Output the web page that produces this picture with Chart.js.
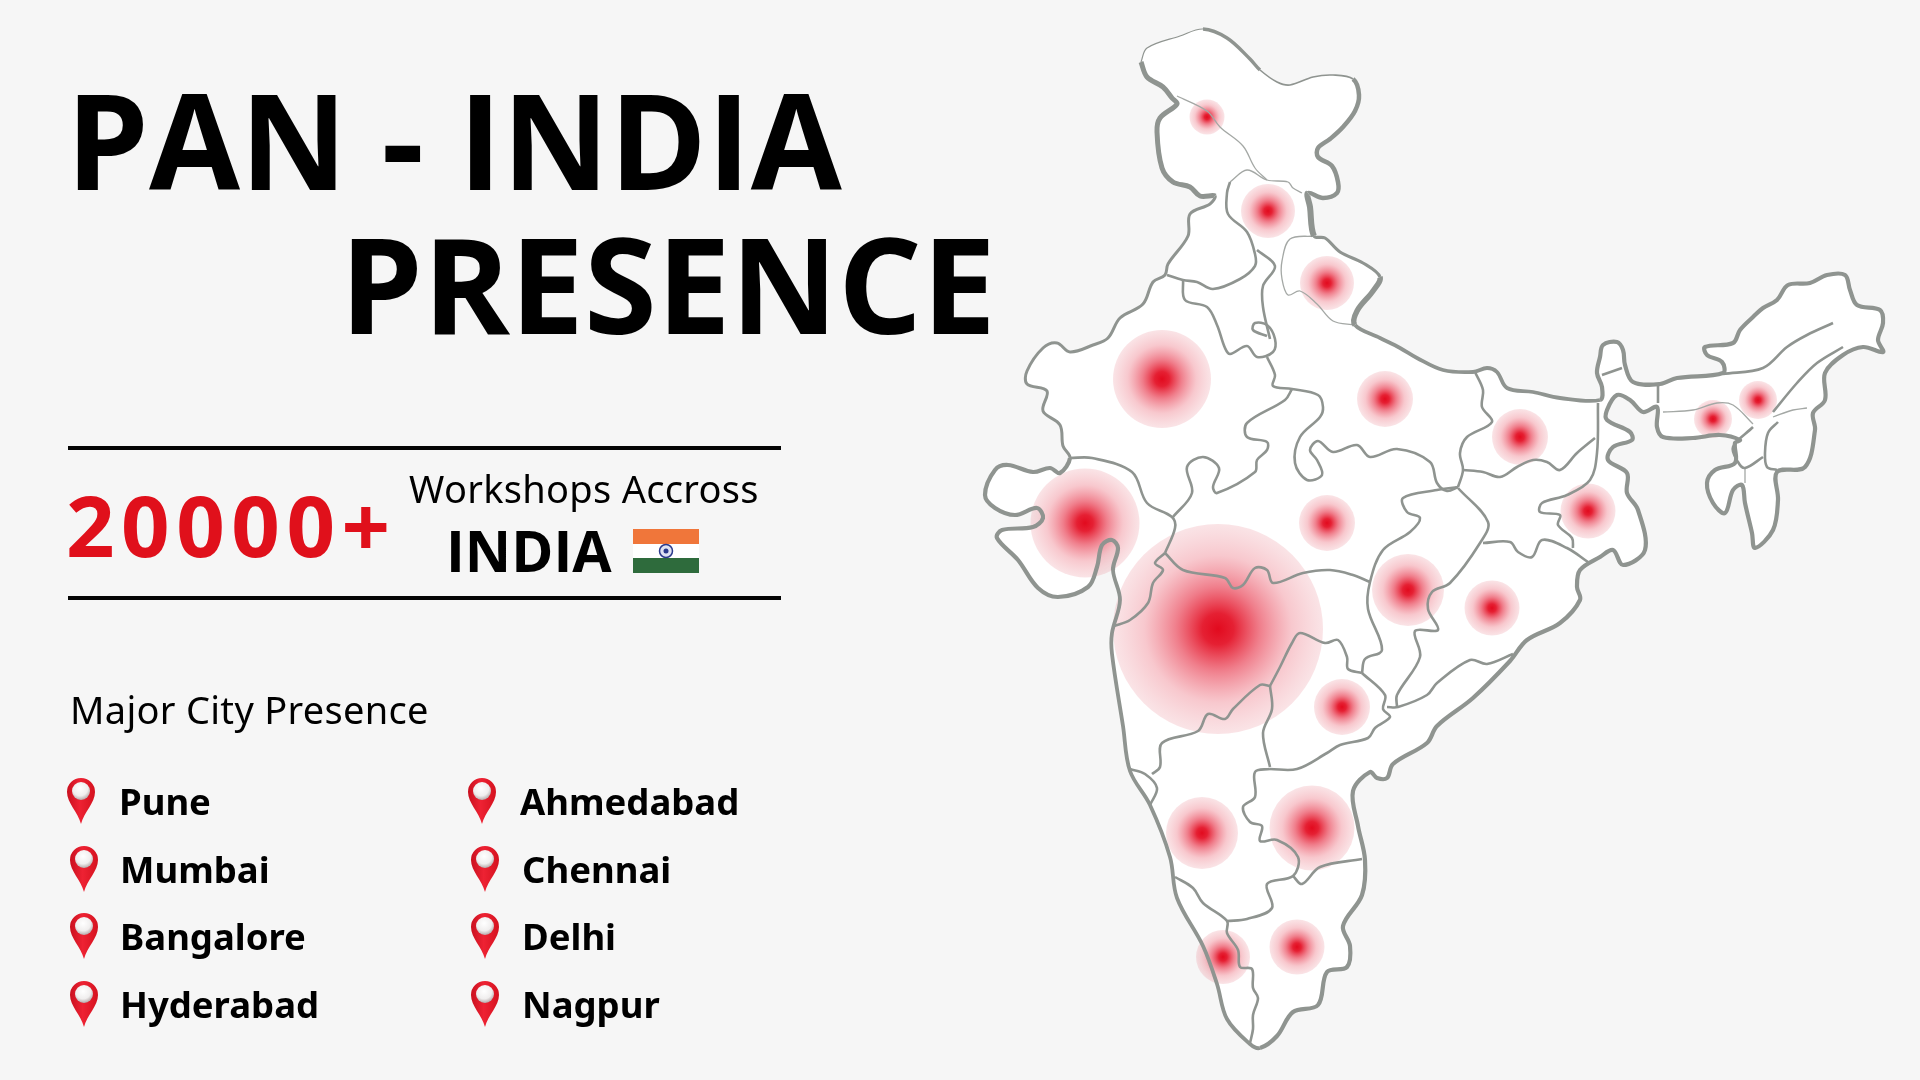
<!DOCTYPE html>
<html>
<head>
<meta charset="utf-8">
<title>PAN - INDIA PRESENCE</title>
<script src="https://cdn.jsdelivr.net/npm/chart.js@4"></script>
<style>
  html, body { margin: 0; padding: 0; background: #f6f6f6; }
  #page { position: relative; width: 1920px; height: 1080px; overflow: hidden; background: #f6f6f6; color: #000; }
  #page canvas { position: absolute; left: 0; top: 0; }
  .txt { position: absolute; white-space: nowrap; line-height: 1; }
  .rule { position: absolute; left: 68px; width: 713px; height: 4px; background: #050505; }
  .pin { position: absolute; width: 30px; height: 46px; }
</style>
</head>
<body>
<div id="page">
  <canvas id="mapChart" width="1920" height="1080"></canvas>
  <div class="txt" id="title1" style="left:66px;top:49px;font:700 132px 'Open Sans'">PAN - INDIA</div>
  <div class="txt" id="title2" style="left:340px;top:193px;font:700 132px 'Open Sans'">PRESENCE</div>
  <div class="rule" style="top:446px"></div>
  <div class="rule" style="top:596px"></div>
  <div class="txt" style="left:66px;top:466px;font:700 85px 'Open Sans';color:#e0101b;letter-spacing:6.5px">20000+</div>
  <div class="txt" style="left:409px;top:462px;font:400 38px 'Noto Sans';letter-spacing:0.3px">Workshops Accross</div>
  <div class="txt" style="left:446px;top:511px;font:700 57px 'Open Sans'">INDIA</div>
  <svg style="position:absolute;left:633px;top:529px" width="66" height="44" viewBox="0 0 66 44">
    <rect width="66" height="15" fill="#f0763a"/>
    <rect y="15" width="66" height="14" fill="#ffffff"/>
    <rect y="29" width="66" height="15" fill="#2e6b3c"/>
    <circle cx="33" cy="22" r="6.5" fill="#dfe2f2" stroke="#2b3a8c" stroke-width="1.5"/>
    <circle cx="33" cy="22" r="2.5" fill="#2b3a8c"/>
  </svg>
  <div class="txt" style="left:70px;top:683px;font:400 38px 'Noto Sans';letter-spacing:0.3px">Major City Presence</div>
  <svg width="0" height="0" style="position:absolute">
    <defs>
      <linearGradient id="pinRed" x1="0" x2="1" y1="0" y2="0">
        <stop offset="0" stop-color="#c9101f"/><stop offset="0.45" stop-color="#ee2233"/><stop offset="1" stop-color="#d5121f"/>
      </linearGradient>
      <radialGradient id="pinBall" cx="0.45" cy="0.35" r="0.7">
        <stop offset="0" stop-color="#ffffff"/><stop offset="0.6" stop-color="#f0eeee"/><stop offset="1" stop-color="#a89c9c"/>
      </radialGradient>
    </defs>
  </svg>
</div>
<script>
// cities in the list, two columns
const cityColumnA = ['Pune', 'Mumbai', 'Bangalore', 'Hyderabad'];
const cityColumnB = ['Ahmedabad', 'Chennai', 'Delhi', 'Nagpur'];

// presence bubbles
const bubbleX = [1207, 1268, 1327, 1162, 1385, 1327, 1085, 1218, 1520, 1588, 1713, 1758, 1408, 1492, 1342, 1202, 1312, 1223, 1297];
const bubbleY = [117, 211, 283, 379, 399, 523, 523, 629, 437, 511, 419, 400, 590, 608, 707, 833, 828, 957, 947];
const bubbleSize = [17.5, 27, 27, 49, 28, 28, 54.5, 105, 28, 27.5, 19, 19, 36, 27.5, 28, 36, 42.5, 27, 27.5];

// outer coast / frontier, clockwise from Kashmir
const coastKashmirTop = [[1141,62],[1147,48],[1180,36],[1203,29]];
const coastLadakh = [[1203,29],[1227,38],[1250,59],[1260,70]];
const coastLadakhEast = [[1260,70],[1277,82],[1290,85],[1313,77],[1333,75],[1353,79]];
const coastHimachal = [[1353,79],[1359,95],[1355,111],[1343,127],[1330,139],[1318,148],[1318,157],[1332,166],[1338,182],[1337,193],[1323,198],[1308,193]];
const coastTibet = [[1308,193],[1310,207],[1314,236]];
const coastNepalWest = [[1314,236],[1325,238],[1340,252],[1363,263],[1380,277]];
const coastNepalCorner = [[1380,277],[1373,291],[1357,311],[1355,325]];
const coastNepalSouth = [[1355,325],[1380,338],[1400,348],[1417,358],[1443,370],[1473,372],[1487,368],[1497,372],[1507,388],[1533,392],[1560,398],[1600,400]];
const coastNorthEast = [[1600,400],[1602,387],[1597,373],[1600,357],[1603,345],[1617,342],[1623,350],[1625,365],[1633,382],[1660,384],[1677,378],[1723,373],[1722,362],[1707,355],[1705,347],[1733,343],[1740,330],[1753,317],[1763,308],[1777,300],[1788,285],[1810,283],[1827,275],[1845,275],[1850,290],[1857,305],[1880,310],[1883,323],[1878,340],[1883,352],[1863,347],[1843,355],[1825,373],[1825,400],[1813,413],[1815,430],[1805,467],[1777,472],[1778,500],[1773,530],[1755,548],[1752,533],[1745,503],[1742,485],[1733,490],[1725,513],[1713,503],[1707,483],[1715,470],[1735,463],[1735,443],[1740,440],[1720,435],[1693,438],[1663,437],[1657,427],[1657,407],[1643,412],[1630,400],[1617,395],[1607,410],[1607,420],[1630,432],[1632,440],[1613,447],[1608,460],[1627,473],[1627,493],[1638,510],[1645,550],[1623,565],[1613,550],[1600,557],[1580,570],[1577,587],[1580,600]];
const coastEast = [[1580,600],[1560,623],[1527,640],[1510,661],[1473,698],[1437,726],[1427,743],[1393,764],[1387,778],[1377,778],[1370,772],[1353,791],[1358,826],[1365,860],[1362,895],[1343,926],[1350,946],[1347,967],[1327,972],[1318,1005],[1293,1012],[1277,1036],[1260,1048]];
const coastWest = [[1260,1048],[1250,1044],[1227,1019],[1217,984],[1203,946],[1177,898],[1170,857],[1150,805],[1130,771],[1123,726],[1112,654],[1112,633],[1120,600],[1113,570]];
const coastGujarat = [[1113,570],[1118,548],[1112,540],[1102,545],[1097,567],[1088,587],[1058,597],[1038,588],[1018,560],[997,538],[1002,530],[1033,527],[1043,518],[1037,508],[1015,515],[995,508],[985,495],[995,470],[1008,465],[1033,472],[1050,468],[1060,473],[1070,458]];
const coastRajasthan = [[1070,458],[1063,446],[1060,425],[1043,411],[1047,391],[1027,384],[1027,371],[1043,348],[1057,343],[1070,352],[1093,345],[1108,338],[1120,318],[1143,304],[1153,282],[1165,275],[1168,264],[1188,236],[1190,214],[1210,204],[1215,196]];
const coastKashmirWest = [[1215,196],[1200,196],[1190,187],[1173,182],[1162,168],[1157,132],[1160,118],[1177,104],[1172,98],[1163,87],[1147,77],[1141,62]];

const coastParts = [coastKashmirTop, coastLadakh, coastLadakhEast, coastHimachal, coastTibet, coastNepalWest, coastNepalCorner, coastNepalSouth, coastNorthEast, coastEast, coastWest, coastGujarat, coastRajasthan, coastKashmirWest];
const coastWeights = [1.2, 3.5, 1.6, 4.5, 6, 3.2, 5.5, 3.8, 4.2, 4.2, 3.8, 4.2, 3, 5];

// state borders
const borderKashmirHimachal = [[1177,96],[1207,111],[1220,127],[1243,146],[1255,168],[1267,180]];
const borderHimachalTop = [[1230,182],[1247,170],[1267,180],[1288,182],[1293,188],[1302,193]];
const borderHimachalPunjab = [[1230,182],[1227,193],[1228,214],[1247,232],[1255,254],[1255,266],[1240,279],[1213,289],[1197,282],[1183,280],[1167,275]];
const borderHaryana = [[1183,280],[1185,300],[1207,307],[1217,325],[1225,348],[1230,354],[1247,346],[1257,357],[1273,352],[1275,339],[1267,325],[1255,323],[1253,330],[1267,336]];
const borderUpWest = [[1257,250],[1275,266],[1263,286],[1263,307],[1270,339]];
const borderUttarakhand = [[1314,236],[1290,239],[1282,261],[1282,279],[1288,295],[1300,291],[1317,304],[1333,321],[1355,325]];
const borderUpRajasthan = [[1267,357],[1275,375],[1273,386],[1292,389],[1318,395],[1323,407],[1320,417],[1300,437],[1295,463],[1307,480],[1322,475],[1317,460],[1310,450],[1318,441],[1333,452],[1357,445],[1370,457],[1397,449],[1430,462],[1437,483],[1447,491],[1458,487]];
const borderRajasthanMp = [[1292,389],[1285,400],[1247,423],[1247,437],[1267,442],[1267,450],[1257,460],[1255,472],[1217,493],[1213,487],[1219,468],[1203,457],[1187,467],[1192,493],[1173,517]];
const borderGujarat = [[1070,458],[1092,458],[1132,472],[1147,503],[1172,517],[1175,528],[1165,553]];
const borderMaharashtraNorth = [[1165,553],[1183,570],[1225,578],[1233,588],[1243,585],[1255,568],[1267,570],[1273,583],[1303,573],[1330,570],[1353,575],[1370,582]];
const borderDadra = [[1165,553],[1155,563],[1163,570],[1153,583],[1148,603],[1130,620],[1114,626]];
const borderMpChhattisgarh = [[1458,487],[1437,490],[1403,498],[1407,512],[1420,518],[1410,532],[1383,550],[1370,582],[1368,609],[1382,650],[1365,659],[1362,673]];
const borderTelanganaNorth = [[1362,673],[1348,669],[1347,657],[1338,640],[1325,643],[1300,633],[1292,643],[1280,667],[1270,686]];
const borderKarnatakaNorth = [[1270,686],[1260,685],[1233,709],[1225,719],[1208,714],[1198,731],[1162,743],[1160,767],[1152,774]];
const borderGoa = [[1130,769],[1145,774],[1157,788],[1150,805]];
const borderTelanganaWest = [[1270,686],[1272,709],[1263,733],[1270,767]];
const borderTelanganaSouth = [[1270,769],[1297,769],[1327,753],[1340,745],[1368,738],[1375,728],[1390,717],[1383,709],[1385,695],[1362,673]];
const borderKarnatakaEast = [[1270,769],[1255,772],[1255,797],[1243,807],[1250,822],[1262,826],[1260,841],[1277,840],[1298,857],[1293,876],[1267,884],[1272,908],[1247,919],[1227,921]];
const borderTamilNaduNorth = [[1293,876],[1302,884],[1320,867],[1362,859]];
const borderKerala = [[1175,877],[1193,888],[1203,903],[1227,921],[1227,933],[1238,950],[1240,967],[1252,969],[1253,988],[1258,998],[1253,1015],[1253,1029],[1250,1043]];
const borderChhattisgarhOdisha = [[1458,488],[1488,522],[1480,543],[1450,583],[1432,592],[1428,609],[1438,630],[1415,631],[1420,657],[1397,695],[1397,707]];
const borderOdishaSouth = [[1387,707],[1398,707],[1427,695],[1437,683],[1470,660],[1487,664],[1513,654]];
const borderJharkhandOdisha = [[1483,543],[1510,542],[1518,552],[1532,557],[1542,540],[1567,548],[1588,562]];
const borderBengalWest = [[1573,548],[1572,538],[1558,525],[1560,515],[1540,512],[1542,503],[1567,495],[1590,480],[1597,453],[1598,403]];
const borderBiharJharkhand = [[1595,438],[1577,453],[1560,470],[1547,462],[1533,460],[1517,467],[1500,477],[1483,472],[1463,470]];
const borderUpBihar = [[1475,372],[1483,390],[1482,407],[1492,422],[1467,437],[1460,453],[1463,470],[1458,487]];
const borderSikkim = [[1602,375],[1622,368]];
const borderAssamWest = [[1658,385],[1658,403]];
const borderMeghalaya = [[1663,412],[1693,410],[1717,403],[1733,405],[1753,424]];
const borderArunachal = [[1723,374],[1763,368],[1787,347],[1807,335],[1833,323]];
const borderNagaland = [[1843,347],[1817,363],[1797,383],[1773,412]];
const borderManipur = [[1773,417],[1793,410],[1807,408]];
const borderManipurWest = [[1778,422],[1768,433],[1765,453],[1767,467],[1777,470]];
const borderTripura = [[1763,457],[1745,468],[1738,462],[1733,447],[1753,427]];
const borderMizoram = [[1745,468],[1745,483]];

const stateBorders = [borderUpRajasthan, borderRajasthanMp, borderGujarat, borderMaharashtraNorth, borderDadra, borderMpChhattisgarh,
  borderTelanganaNorth, borderKarnatakaNorth, borderGoa, borderTelanganaWest, borderTelanganaSouth, borderKarnatakaEast, borderTamilNaduNorth,
  borderKerala, borderChhattisgarhOdisha, borderOdishaSouth, borderJharkhandOdisha, borderBengalWest, borderBiharJharkhand, borderUpBihar,
  borderHaryana, borderUpWest, borderTripura, borderManipurWest, borderArunachal, borderNagaland, borderHimachalPunjab, borderSikkim, borderAssamWest];
const faintBorders = [borderKashmirHimachal, borderHimachalTop, borderUttarakhand, borderMeghalaya, borderManipur, borderMizoram];

const GREY = '#8f9490';

// joins the coast parts, remembering which part each segment belongs to
const coastline = [];
const coastOwner = [];
coastParts.forEach((part, p) => {
  part.forEach((pt, i) => {
    if (i === 0 && p > 0) return;
    coastline.push({ x: pt[0], y: pt[1] });
    coastOwner.push(p);
  });
});

function toPoints(list) {
  return list.map(pt => ({ x: pt[0], y: pt[1] }));
}

// soft red glow, one gradient per bubble
function bubbleFill(ctx) {
  if (ctx.type !== 'data') return '#e30b1c';
  const x = ctx.chart.scales.x.getPixelForValue(bubbleX[ctx.dataIndex]);
  const y = ctx.chart.scales.y.getPixelForValue(bubbleY[ctx.dataIndex]);
  if (!isFinite(x) || !isFinite(y)) return '#e30b1c'; // scales not laid out yet
  const r = bubbleSize[ctx.dataIndex];
  const g = ctx.chart.ctx.createRadialGradient(x, y, 0, x, y, r);
  g.addColorStop(0, 'rgba(226,10,30,1)');
  g.addColorStop(0.15, 'rgba(228,20,40,0.95)');
  g.addColorStop(0.4, 'rgba(232,60,80,0.66)');
  g.addColorStop(0.7, 'rgba(236,110,125,0.38)');
  g.addColorStop(1, 'rgba(236,150,160,0.26)');
  return g;
}

const datasets = [
  { type: 'scatter', label: 'land', data: coastline, showLine: true, tension: 0.35, pointRadius: 0, borderWidth: 0, borderColor: 'rgba(0,0,0,0)', backgroundColor: '#ffffff', fill: 'shape', order: 5 },
  { type: 'bubble', label: 'presence', order: 4, backgroundColor: bubbleFill, borderWidth: 0, hoverRadius: 0,
    data: bubbleX.map((x, i) => ({ x: x, y: bubbleY[i], r: bubbleSize[i] })) },
  { type: 'scatter', label: 'coast', data: coastline, showLine: true, tension: 0.35, pointRadius: 0, borderColor: GREY, borderWidth: 3.5, fill: false, order: 1,
    segment: { borderWidth: ctx => coastWeights[coastOwner[ctx.p1DataIndex]] } }
];
stateBorders.forEach(b => datasets.push({ type: 'scatter', data: toPoints(b), showLine: true, tension: 0.35, pointRadius: 0, borderColor: GREY, borderWidth: 2.6, fill: false, order: 2 }));
faintBorders.forEach(b => datasets.push({ type: 'scatter', data: toPoints(b), showLine: true, tension: 0.35, pointRadius: 0, borderColor: '#a4a8a5', borderWidth: 1.3, fill: false, order: 3 }));

new Chart(document.getElementById('mapChart'), {
  type: 'scatter',
  data: { datasets: datasets },
  options: {
    responsive: false,
    animation: false,
    events: [],
    layout: { padding: 0, autoPadding: false }, // bubbles would otherwise shrink the plot area
    plugins: { legend: { display: false }, tooltip: { enabled: false } },
    scales: {
      x: { type: 'linear', min: 0, max: 1920, display: false },
      y: { type: 'linear', min: 0, max: 1080, reverse: true, display: false }
    }
  }
});

// city list with pins
const page = document.getElementById('page');
const rowBaseline = [814, 882, 949, 1017];
function addCity(name, left, pinX, row) {
  const label = document.createElement('div');
  label.className = 'txt';
  label.style.cssText = `left:${left}px;top:${rowBaseline[row] - 38}px;font:700 36.5px 'Noto Sans'`;
  label.innerText = name;
  page.appendChild(label);
  const pin = document.createElementNS('http://www.w3.org/2000/svg', 'svg');
  pin.setAttribute('class', 'pin');
  pin.setAttribute('viewBox', '0 0 30 46');
  pin.style.left = (pinX - 15) + 'px';
  pin.style.top = (rowBaseline[row] - 36) + 'px';
  pin.innerHTML = '<path d="M15 46 C12 34 1 25 1 14 A14 14 0 0 1 29 14 C29 25 18 34 15 46 Z" fill="url(#pinRed)"/>' +
    '<circle cx="15" cy="13" r="9" fill="url(#pinBall)"/>';
  page.appendChild(pin);
}
cityColumnA.forEach((c, i) => addCity(c, i === 0 ? 119 : 120, i === 0 ? 81 : 84, i));
cityColumnB.forEach((c, i) => addCity(c, i === 0 ? 520 : 522, i === 0 ? 482 : 485, i));
</script>
</body>
</html>
